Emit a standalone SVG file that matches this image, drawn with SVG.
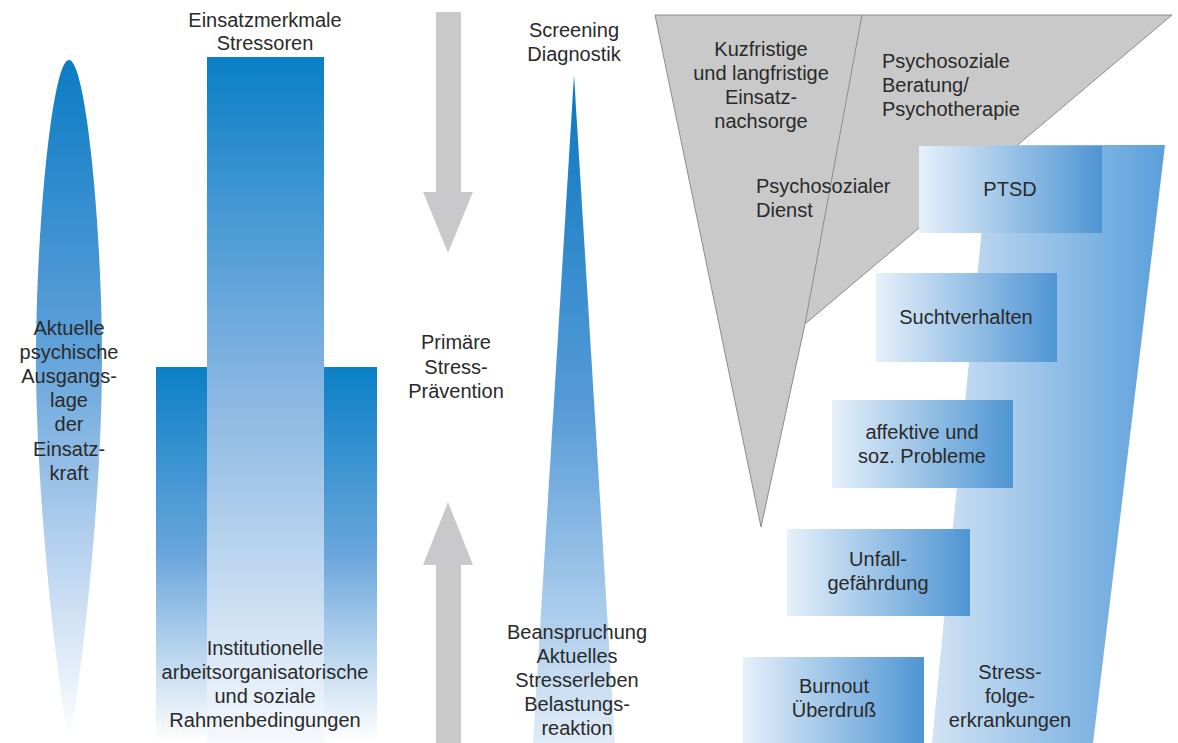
<svg xmlns="http://www.w3.org/2000/svg" width="1178" height="743" viewBox="0 0 1178 743">
<defs>
<linearGradient id="gEll" x1="0" y1="60" x2="0" y2="742" gradientUnits="userSpaceOnUse">
<stop offset="0" stop-color="#0a7cc4"/>
<stop offset="0.4" stop-color="#5a9ed8"/>
<stop offset="0.7" stop-color="#b2cfee"/>
<stop offset="1" stop-color="#ffffff"/>
</linearGradient>
<linearGradient id="gTall" x1="0" y1="57" x2="0" y2="742" gradientUnits="userSpaceOnUse">
<stop offset="0" stop-color="#0a7fc6"/>
<stop offset="0.45" stop-color="#7fb1e0"/>
<stop offset="1" stop-color="#f6f9fd"/>
</linearGradient>
<linearGradient id="gSide" x1="0" y1="367" x2="0" y2="742" gradientUnits="userSpaceOnUse">
<stop offset="0" stop-color="#0a80c6"/>
<stop offset="0.5" stop-color="#6aa6dc"/>
<stop offset="1" stop-color="#ffffff"/>
</linearGradient>
<linearGradient id="gSpike" x1="0" y1="75" x2="0" y2="742" gradientUnits="userSpaceOnUse">
<stop offset="0" stop-color="#0a78c0"/>
<stop offset="0.5" stop-color="#579bd8"/>
<stop offset="1" stop-color="#e0ecf8"/>
</linearGradient>
<linearGradient id="gBox" x1="0" y1="0" x2="1" y2="0">
<stop offset="0" stop-color="#e6f0fa"/>
<stop offset="1" stop-color="#4e95d3"/>
</linearGradient>
<linearGradient id="gTrap" x1="930" y1="0" x2="1165" y2="0" gradientUnits="userSpaceOnUse">
<stop offset="0" stop-color="#d2e3f4"/>
<stop offset="1" stop-color="#5a9fdb"/>
</linearGradient>
<style>
text{font-family:"Liberation Sans",Arial,sans-serif;font-size:20px;fill:#2a2a2a}
.c{text-anchor:middle}
.arrow{fill:#c9c9cb}
.box{fill:url(#gBox)}
</style>
</defs>
<rect width="1178" height="743" fill="#ffffff"/>

<g id="ausgangslage">
<path d="M69,60 C86,60 102,230 102,360 C102,500 80,690 69,742 C58,690 36,500 36,360 C36,230 52,60 69,60 Z" fill="url(#gEll)"/>
<text class="c" x="69" y="335">Aktuelle</text>
<text class="c" x="69" y="359">psychische</text>
<text class="c" x="69" y="383">Ausgangs-</text>
<text class="c" x="69" y="407">lage</text>
<text class="c" x="69" y="431">der</text>
<text class="c" x="69" y="456">Einsatz-</text>
<text class="c" x="69" y="480">kraft</text>
</g>

<g id="stressoren">
<rect x="207" y="57" width="117" height="686" fill="url(#gTall)"/>
<text class="c" x="265" y="27">Einsatzmerkmale</text>
<text class="c" x="265" y="50">Stressoren</text>
</g>

<g id="rahmenbedingungen">
<rect x="156" y="367" width="51" height="376" fill="url(#gSide)"/>
<rect x="324" y="367" width="53" height="376" fill="url(#gSide)"/>
<text class="c" x="265" y="655">Institutionelle</text>
<text class="c" x="265" y="679">arbeitsorganisatorische</text>
<text class="c" x="265" y="703">und soziale</text>
<text class="c" x="265" y="727">Rahmenbedingungen</text>
</g>

<g id="praevention">
<text class="c" x="456" y="349">Primäre</text>
<text class="c" x="456" y="374">Stress-</text>
<text class="c" x="456" y="398">Prävention</text>
</g>

<g id="beanspruchung">
<path d="M574,75 L615,743 L533,743 Z" fill="url(#gSpike)"/>
<text class="c" x="574" y="37">Screening</text>
<text class="c" x="574" y="61">Diagnostik</text>
<text class="c" x="577" y="639">Beanspruchung</text>
<text class="c" x="577" y="663">Aktuelles</text>
<text class="c" x="577" y="687">Stresserleben</text>
<text class="c" x="577" y="711">Belastungs-</text>
<text class="c" x="577" y="735">reaktion</text>
</g>

<g id="intervention">
<path d="M655,15 L1172,15 L805,324 L761,527 Z" fill="#c9c9c9" stroke="#8c8c8c" stroke-width="1"/>
<line x1="862" y1="15" x2="805" y2="324" stroke="#8c8c8c" stroke-width="1"/>
<text class="c" x="761" y="56">Kuzfristige</text>
<text class="c" x="761" y="80">und langfristige</text>
<text class="c" x="761" y="104">Einsatz-</text>
<text class="c" x="761" y="128">nachsorge</text>
<text x="882" y="68">Psychosoziale</text>
<text x="882" y="92">Beratung/</text>
<text x="882" y="116">Psychotherapie</text>
<text x="756" y="193">Psychosozialer</text>
<text x="756" y="217">Dienst</text>
</g>

<g id="stressfolgeerkrankungen">
<path d="M990,145 L1165,145 L1093,743 L932,743 Z" fill="url(#gTrap)"/>
<text class="c" x="1010" y="679">Stress-</text>
<text class="c" x="1010" y="703">folge-</text>
<text class="c" x="1010" y="727">erkrankungen</text>
</g>

<g id="ptsd">
<rect class="box" x="919" y="146" width="183" height="87"/>
<text class="c" x="1010" y="196">PTSD</text>
</g>
<g id="sucht">
<rect class="box" x="876" y="273" width="181" height="89"/>
<text class="c" x="966" y="324">Suchtverhalten</text>
</g>
<g id="affektiv">
<rect class="box" x="832" y="400" width="181" height="88"/>
<text class="c" x="922" y="439">affektive und</text>
<text class="c" x="922" y="463">soz. Probleme</text>
</g>
<g id="unfall">
<rect class="box" x="787" y="529" width="183" height="87"/>
<text class="c" x="878" y="566">Unfall-</text>
<text class="c" x="878" y="590">gefährdung</text>
</g>
<g id="burnout">
<rect class="box" x="743" y="657" width="181" height="86"/>
<text class="c" x="834" y="693">Burnout</text>
<text class="c" x="834" y="717">Überdruß</text>
</g>

<g id="connectors">
<path class="arrow" d="M436,12 L461,12 L461,192 L473,192 L448,253 L423,192 L436,192 Z"/>
<path class="arrow" d="M448,502 L473,565 L461,565 L461,743 L436,743 L436,565 L423,565 Z"/>
</g>
</svg>
